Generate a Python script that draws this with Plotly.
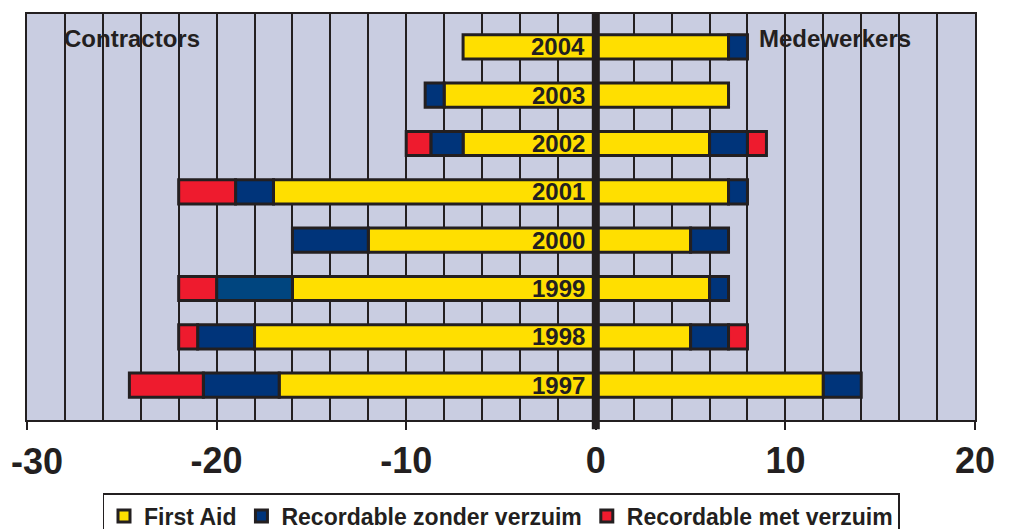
import plotly.graph_objects as go

years = [1997, 1998, 1999, 2000, 2001, 2002, 2003, 2004]
year_labels = [str(y) for y in years]

# Contractors (plotted to the left)
c_first_aid = [16.7, 18, 16, 12, 17, 7, 8, 7]
c_zonder = [4.0, 3, 4, 4, 2, 1.7, 1, 0]
c_met = [3.9, 1, 2, 0, 3, 1.3, 0, 0]

# Medewerkers (plotted to the right)
m_first_aid = [12, 5, 6, 5, 7, 6, 7, 7]
m_zonder = [2, 2, 1, 2, 1, 2, 0, 1]
m_met = [0, 1, 0, 0, 0, 1, 0, 0]

series_names = ["First Aid", "Recordable zonder verzuim", "Recordable met verzuim"]
tick_values = [-30, -20, -10, 0, 10, 20]
tick_labels = ["-30", "-20", "-10", "0", "10", "20"]

colors = ["#FFDF00", "#00347A", "#EE1B2E"]
dark = "#231F20"
bg = "#C9CDE1"
font_family = "Liberation Sans, Arial, sans-serif"


def nz(vals, sign=1):
    return [sign * v if v else None for v in vals]


fig = go.Figure()

contractor_sets = [c_first_aid, c_zonder, c_met]
medewerker_sets = [m_first_aid, m_zonder, m_met]

for i, (name, col) in enumerate(zip(series_names, colors)):
    cc = col
    if i == 1:
        # 1999 contractor segment is drawn in a slightly lighter blue
        cc = [("#00457F" if y == 1999 else col) for y in years]
    fig.add_trace(go.Bar(
        y=years, x=nz(contractor_sets[i], -1), orientation="h",
        name=name, legendgroup=name, showlegend=True,
        marker=dict(color=cc, line=dict(color=dark, width=3)),
        width=0.5, hoverinfo="skip",
    ))
for i, (name, col) in enumerate(zip(series_names, colors)):
    fig.add_trace(go.Bar(
        y=years, x=nz(medewerker_sets[i], 1), orientation="h",
        name=name, legendgroup=name, showlegend=False,
        marker=dict(color=col, line=dict(color=dark, width=3)),
        width=0.5, hoverinfo="skip",
    ))

# year labels next to the zero line
for y, lab in zip(years, year_labels):
    fig.add_annotation(x=0, y=y, xref="x", yref="y", text="<b>%s</b>" % lab,
                       showarrow=False, xanchor="right", yanchor="middle",
                       xshift=-9, font=dict(size=24, color=dark, family=font_family))

fig.add_annotation(x=0.037, y=0.94, xref="paper", yref="paper", text="<b>Contractors</b>",
                   showarrow=False, xanchor="left", yanchor="middle",
                   font=dict(size=24, color=dark, family=font_family))
fig.add_annotation(x=0.770, y=0.94, xref="paper", yref="paper", text="<b>Medewerkers</b>",
                   showarrow=False, xanchor="left", yanchor="middle",
                   font=dict(size=24, color=dark, family=font_family))

# the leftmost tick label sits just inside the page edge
ticktext_axis = [("" if v == tick_values[0] else t) for v, t in zip(tick_values, tick_labels)]
fig.add_annotation(x=tick_values[0], y=0, xref="x", yref="paper",
                   text="<b>%s</b>" % tick_labels[0], showarrow=False,
                   xanchor="left", yanchor="top", xshift=-18, yshift=-19,
                   font=dict(size=36, color=dark, family=font_family))

# thick zero line
fig.add_shape(type="line", xref="x", yref="paper", x0=0, x1=0, y0=-0.023, y1=1,
              line=dict(color=dark, width=8), layer="above")

fig.update_layout(
    barmode="relative",
    width=1007, height=521,
    margin=dict(l=19, r=40, t=6, b=109, autoexpand=False),
    paper_bgcolor="white",
    plot_bgcolor=bg,
    font=dict(family=font_family, color=dark),
    legend=dict(
        orientation="h", x=0.5, xanchor="center", y=-0.18, yanchor="top",
        bordercolor=dark, borderwidth=1.5, bgcolor="white",
        font=dict(size=23, color=dark, family=font_family, weight="bold"),
        itemwidth=30, tracegroupgap=0, traceorder="normal",
    ),
    showlegend=True,
)

fig.update_xaxes(
    range=[-30, 20],
    tickvals=tick_values,
    ticktext=ticktext_axis,
    tickfont=dict(size=36, color=dark, family=font_family, weight="bold"),
    ticks="outside", ticklen=8, tickwidth=2, tickcolor=dark,
    showgrid=True, gridcolor=dark, gridwidth=2,
    minor=dict(dtick=2, tick0=0, showgrid=True, gridcolor=dark, gridwidth=2, ticks=""),
    showline=True, linecolor=dark, linewidth=2, mirror=True,
    zeroline=False, automargin=False,
)
fig.update_yaxes(
    range=[1996.28, 2004.68],
    showticklabels=False, showgrid=False, zeroline=False, ticks="",
    showline=True, linecolor=dark, linewidth=2, mirror=True,
    automargin=False,
)

fig.write_html("out.html")
